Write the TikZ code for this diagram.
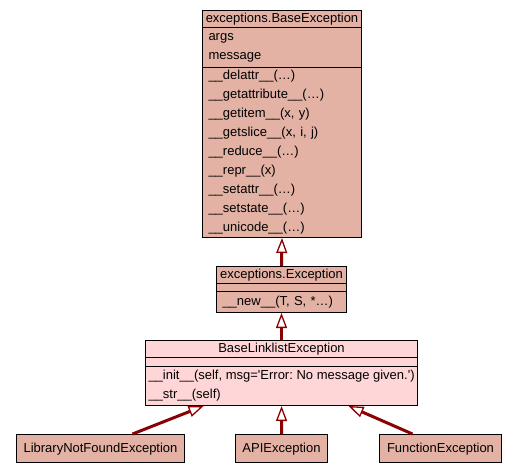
\documentclass[tikz,border=0pt]{standalone}
\usepackage{fontspec}
\setmainfont{Liberation Sans}
\usetikzlibrary{arrows.meta}

\definecolor{classfill}{RGB}{227,178,164}
\definecolor{basefill}{RGB}{255,214,216}
\definecolor{edgered}{RGB}{139,0,0}

\begin{document}
\frenchspacing
\begin{tikzpicture}[x=1pt, y=-1pt,
  font=\fontsize{13}{19}\selectfont,
  box/.style={draw=black, line width=1pt, fill=classfill, inner sep=0pt, anchor=north west},
  classname/.style={box, minimum height=17pt, text height=9.5pt, text depth=2.5pt},
  members/.style={box, align=left, inner xsep=6pt},
  leaf/.style={box, minimum height=28pt, text height=9.5pt, text depth=2.5pt},
  inherit/.style={edgered, line width=3pt,
    -{Triangle[open, length=15pt, width=11pt, line width=1.3pt]}},
]
  \useasboundingbox (0,0) rectangle (517,472);

  % exceptions.BaseException
  \node[classname, minimum width=159pt] (bexname) at (202,10) {exceptions.BaseException};
  \node[members, text width=147pt, minimum height=40pt] (bexattr) at (202,27) {args\\message};
  \node[members, text width=147pt, minimum height=170pt] (bexmeth) at (202,67)
    {\_\_delattr\_\_(\ldots)\\
     \_\_getattribute\_\_(\ldots)\\
     \_\_getitem\_\_(x, y)\\
     \_\_getslice\_\_(x, i, j)\\
     \_\_reduce\_\_(\ldots)\\
     \_\_repr\_\_(x)\\
     \_\_setattr\_\_(\ldots)\\
     \_\_setstate\_\_(\ldots)\\
     \_\_unicode\_\_(\ldots)};

  % exceptions.Exception
  \node[classname, minimum width=130pt] (excname) at (216,266) {exceptions.Exception};
  \node[members, minimum width=130pt, minimum height=8pt] (excattr) at (216,283) {};
  \node[members, text width=118pt, minimum height=21pt] (excmeth) at (216,291)
    {\_\_new\_\_(T, S, *\ldots)};

  % BaseLinklistException
  \node[classname, fill=basefill, minimum width=272pt] (blxname) at (145,340) {BaseLinklistException};
  \node[members, fill=basefill, minimum width=272pt, minimum height=9pt] (blxattr) at (145,357) {};
  \node[members, fill=basefill, inner xsep=3pt, minimum width=272pt, minimum height=39pt] (blxmeth) at (145,366)
    {\_\_init\_\_(self, msg=\textquotesingle Error: No message given.\textquotesingle)\\
     \_\_str\_\_(self)};

  % subclasses
  \node[leaf, minimum width=168pt] (lnf) at (16,434) {LibraryNotFoundException};
  \node[leaf, minimum width=92pt] (api) at (235,434) {APIException};
  \node[leaf, minimum width=122pt] (fex) at (379,434) {FunctionException};

  % inheritance
  \draw[inherit] (excname.north) -- (bexmeth.south);
  \draw[inherit] (blxname.north) -- (excmeth.south);
  \draw[inherit] ([xshift=32pt]lnf.north) -- ([xshift=-78pt]blxmeth.south);
  \draw[inherit] (api.north) -- (blxmeth.south);
  \draw[inherit] ([xshift=-28pt]fex.north) -- ([xshift=67pt]blxmeth.south);
\end{tikzpicture}
\end{document}
